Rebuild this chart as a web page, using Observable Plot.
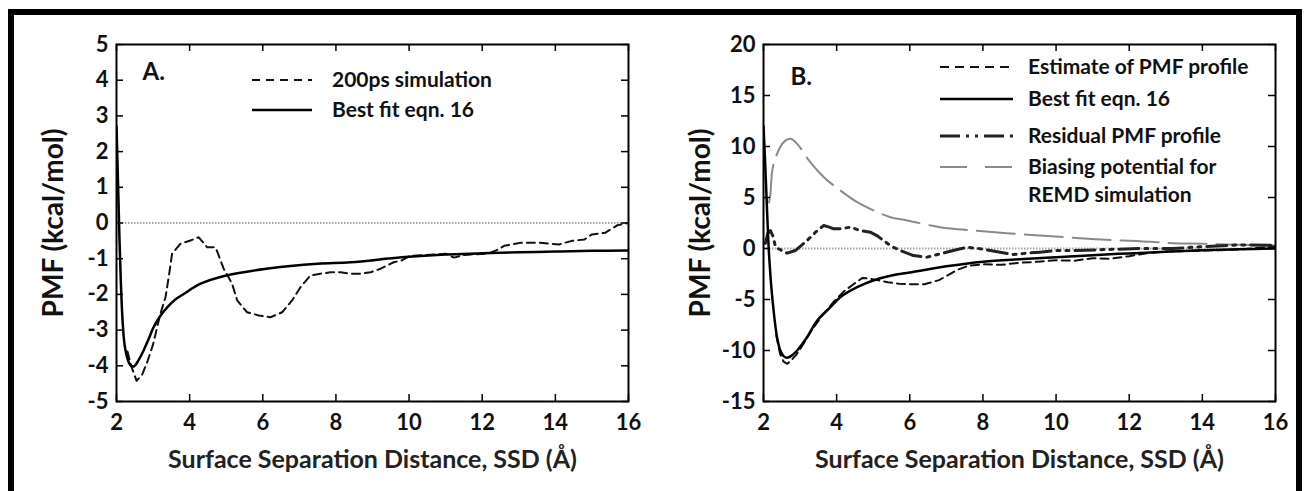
<!DOCTYPE html>
<html><head><meta charset="utf-8">
<script src="https://cdn.jsdelivr.net/npm/d3@7"></script>
<script src="https://cdn.jsdelivr.net/npm/@observablehq/plot@0.6"></script>
<style>
body{margin:0;background:#fff;overflow:hidden;}
#wrap{position:relative;width:1305px;height:491px;overflow:hidden;background:#fff;}
#border{position:absolute;left:8px;top:9px;width:1282px;height:600px;border:6px solid #000;}
.panel{position:absolute;top:0;}
#legend{position:absolute;left:0;top:0;}
</style></head>
<body><div id="wrap"><div id="border"></div></div>
<script>
// ---- tick values ----
const xTicks = [2, 4, 6, 8, 10, 12, 14, 16];
const yTicksA = [-5, -4, -3, -2, -1, 0, 1, 2, 3, 4, 5];
const yTicksB = [-15, -10, -5, 0, 5, 10, 15, 20];

// ---- Panel A ----
const simA_x = [2.3,2.4,2.55,2.7,2.84,3.0,3.2,3.34,3.43,3.52,3.75,4.02,4.25,4.48,4.71,4.93,5.16,5.3,5.57,5.89,6.21,6.53,6.8,7.03,7.3,7.58,7.85,8.13,8.4,8.67,8.95,9.22,9.58,9.8,10.02,10.4,10.77,11.0,11.23,11.5,11.69,12.15,12.44,12.6,13.07,13.53,14.1,14.45,14.8,15.0,15.37,15.7,16.0];
const simA_y = [-3.6,-4.0,-4.42,-4.25,-3.9,-3.4,-2.54,-2.08,-1.5,-0.86,-0.58,-0.49,-0.40,-0.68,-0.68,-1.28,-1.70,-2.17,-2.50,-2.59,-2.64,-2.50,-2.17,-1.80,-1.47,-1.42,-1.38,-1.38,-1.42,-1.42,-1.38,-1.28,-1.10,-1.05,-0.92,-0.90,-0.88,-0.86,-0.97,-0.90,-0.88,-0.86,-0.74,-0.64,-0.55,-0.55,-0.60,-0.50,-0.46,-0.32,-0.27,-0.06,0.0];
const fitA_x = [2.0,2.04,2.08,2.12,2.17,2.22,2.3,2.38,2.47,2.6,2.75,2.9,3.0,3.2,3.4,3.6,3.85,4.3,5.0,6.1,7.5,8.4,9.8,11,12,13,14,15,16];
const fitA_y = [2.7,1.2,-0.4,-1.7,-2.8,-3.4,-3.8,-3.98,-4.02,-3.85,-3.55,-3.2,-2.95,-2.6,-2.35,-2.15,-1.98,-1.7,-1.47,-1.28,-1.14,-1.1,-0.96,-0.88,-0.85,-0.82,-0.8,-0.78,-0.77];

// ---- Panel B ----
const estB_x = [2.35,2.45,2.55,2.65,2.75,2.9,3.1,3.3,3.6,3.9,4.2,4.5,4.7,4.9,5.1,5.4,5.7,6.0,6.4,6.8,7.0,7.3,7.6,8.0,8.5,9.0,9.5,10,10.5,11,11.5,12,12.5,13,14,15,16];
const estB_y = [-8.5,-10.3,-11.1,-11.3,-11.0,-10.4,-9.3,-8.1,-6.6,-5.3,-4.2,-3.4,-2.9,-2.95,-3.1,-3.3,-3.45,-3.5,-3.5,-3.1,-2.7,-2.1,-1.7,-1.55,-1.6,-1.4,-1.3,-1.15,-1.2,-0.95,-1.0,-0.75,-0.45,-0.3,-0.2,-0.1,0.2];
const fitB_x = [2.0,2.05,2.1,2.15,2.24,2.37,2.46,2.55,2.65,2.75,2.92,3.19,3.47,3.83,4.1,4.56,5.0,5.5,6.0,7.0,8.0,9.0,10,11,12,13,14,15,16];
const fitB_y = [12,8,3.5,-0.5,-4.8,-8.7,-10.0,-10.55,-10.7,-10.55,-10.0,-8.7,-7.06,-5.75,-4.77,-3.79,-3.14,-2.65,-2.35,-1.75,-1.3,-1.05,-0.85,-0.65,-0.48,-0.32,-0.18,-0.08,0];
const resB_x = [2.05,2.12,2.19,2.26,2.33,2.5,2.65,2.87,3.19,3.47,3.65,3.8,3.92,4.1,4.37,4.65,4.92,5.1,5.28,5.51,5.74,6.1,6.47,6.83,7.19,7.56,7.92,8.47,8.84,9.2,9.56,10.02,10.47,11.38,12.29,13.2,14.1,15.0,16];
const resB_y = [0.5,1.5,1.76,1.2,0.13,-0.2,-0.46,-0.2,0.78,1.76,2.25,2.1,1.93,1.93,2.09,1.76,1.6,1.27,0.78,0.2,-0.2,-0.69,-0.85,-0.52,-0.2,0.13,-0.03,-0.36,-0.59,-0.46,-0.36,-0.2,-0.2,-0.1,0,0,0.2,0.36,0.3];
const biasB_x = [2.15,2.19,2.24,2.37,2.55,2.74,2.92,3.28,3.65,4.1,4.56,5.01,5.47,5.92,6.83,7.74,8.65,9.56,10.47,11.38,12.29,13.2,14.1,15.0,16];
const biasB_y = [4.5,5.36,7.65,9.28,10.42,10.75,10.26,8.46,6.99,5.69,4.54,3.73,3.07,2.75,2.09,1.76,1.5,1.27,1.05,0.85,0.72,0.52,0.46,0.36,0.3];

// ---- labels ----
const xTitle = "Surface Separation Distance, SSD (Å)";
const yTitle = "PMF (kcal/mol)";
const legendA = ["200ps simulation", "Best fit eqn. 16"];
const legendB = ["Estimate of PMF profile", "Best fit eqn. 16", "Residual PMF profile", "Biasing potential for", "REMD simulation"];

const FONT = "Lato, 'Open Sans', sans-serif";
const styles = {
  dash:  {stroke: "#111", strokeWidth: 2, strokeDasharray: "8,5"},
  solid: {stroke: "#000", strokeWidth: 2.5},
  resid: {stroke: "#222", strokeWidth: 3, strokeDasharray: "20,6,3,6,3,6"},
  bias:  {stroke: "#8a8a8a", strokeWidth: 2, strokeDasharray: "38,10"}
};
const rows = (xs, ys) => xs.map((x, i) => ({x, y: ys[i]}));

function makePanel(cfg) {
  const W = 640, H = 491, mL = 116, mR = 12, mT = 44, mB = 90;
  const iw = W - mL - mR, ih = H - mT - mB, tl = 7;
  const tickStyle = {stroke: "#000", strokeWidth: 1.5};
  const marks = [
    Plot.ruleY([0], {stroke: "#a5a5a5", strokeWidth: 2, strokeDasharray: "1.5,1.5"}),
    ...cfg.series.map(s => Plot.line(rows(s.x, s.y), {x: "x", y: "y", curve: s.curve || "linear", clip: true, ...styles[s.style]})),
    Plot.ruleY(cfg.yTicks, {insetRight: iw - tl, ...tickStyle}),
    Plot.ruleY(cfg.yTicks, {insetLeft: iw - tl, ...tickStyle}),
    Plot.ruleX(xTicks, {insetTop: ih - tl, ...tickStyle}),
    Plot.ruleX(xTicks, {insetBottom: ih - tl, ...tickStyle}),
    Plot.frame({stroke: "#000", strokeWidth: 2}),
    Plot.axisX(xTicks, {anchor: "bottom", tickSize: 0, tickPadding: 13, fontSize: 22, fontWeight: "bold", fill: "#111", label: null, tickFormat: d => String(d)}),
    Plot.axisY(cfg.yTicks, {anchor: "left", tickSize: 0, tickPadding: 8, fontSize: 22, fontWeight: "bold", fill: "#111", label: null, tickFormat: d => String(d)}),
    Plot.text([xTitle], {frameAnchor: "bottom", dy: 66, textAnchor: "middle", fontSize: 25, fontWeight: "bold", fill: "#222"}),
    Plot.text([yTitle], {frameAnchor: "left", dx: -62, rotate: -90, textAnchor: "middle", fontSize: 28, fontWeight: "bold", fill: "#111"}),
    Plot.text([cfg.tag], {frameAnchor: "top-left", dx: cfg.tagDx, dy: cfg.tagDy, textAnchor: "start", fontSize: 24, fontWeight: "bold", fill: "#111"})
  ];
  const svg = Plot.plot({
    width: W, height: H, marginLeft: mL, marginRight: mR, marginTop: mT, marginBottom: mB,
    x: {domain: [2, 16], axis: null},
    y: {domain: cfg.yDomain, axis: null},
    style: {fontFamily: FONT, background: "transparent", overflow: "visible"},
    marks
  });
  svg.classList.add("panel");
  svg.style.left = cfg.left + "px";
  return svg;
}

const wrap = document.getElementById("wrap");
wrap.appendChild(makePanel({
  left: 0, yDomain: [-5, 5], yTicks: yTicksA, tag: "A.", tagDx: 26, tagDy: 18,
  series: [
    {x: simA_x, y: simA_y, style: "dash"},
    {x: fitA_x, y: fitA_y, style: "solid", curve: "catmull-rom"}
  ]
}));
wrap.appendChild(makePanel({
  left: 647, yDomain: [-15, 20], yTicks: yTicksB, tag: "B.", tagDx: 27, tagDy: 23,
  series: [
    {x: biasB_x, y: biasB_y, style: "bias", curve: "catmull-rom"},
    {x: resB_x, y: resB_y, style: "resid"},
    {x: estB_x, y: estB_y, style: "dash"},
    {x: fitB_x, y: fitB_y, style: "solid", curve: "catmull-rom"}
  ]
}));

// ---- legends (drawn as an overlay) ----
const leg = d3.select(wrap).append("svg").attr("id", "legend").attr("width", 1305).attr("height", 491)
  .style("font-family", FONT);
function legendItem(x1, x2, tx, y, label, style, legendDash) {
  if (style) {
    const st = styles[style];
    leg.append("line").attr("x1", x1).attr("x2", x2).attr("y1", y).attr("y2", y)
      .attr("stroke", st.stroke).attr("stroke-width", st.strokeWidth)
      .attr("stroke-dasharray", legendDash || st.strokeDasharray || null);
  }
  leg.append("text").attr("x", tx).attr("y", y).attr("dy", "0.35em")
    .attr("font-size", 21).attr("font-weight", "bold").attr("fill", "#111").text(label);
}
legendItem(252, 312, 332, 80, legendA[0], "dash", "8,6");
legendItem(252, 312, 332, 110, legendA[1], "solid");
legendItem(940, 1013, 1028, 67, legendB[0], "dash", "9,6");
legendItem(940, 1013, 1028, 99, legendB[1], "solid");
legendItem(940, 1013, 1028, 136, legendB[2], "resid", "20,6,3,6,3,6");
legendItem(940, 1013, 1028, 167, legendB[3], "bias", "27,18");
legendItem(940, 1013, 1028, 195, legendB[4], null);
</script>
</body></html>
